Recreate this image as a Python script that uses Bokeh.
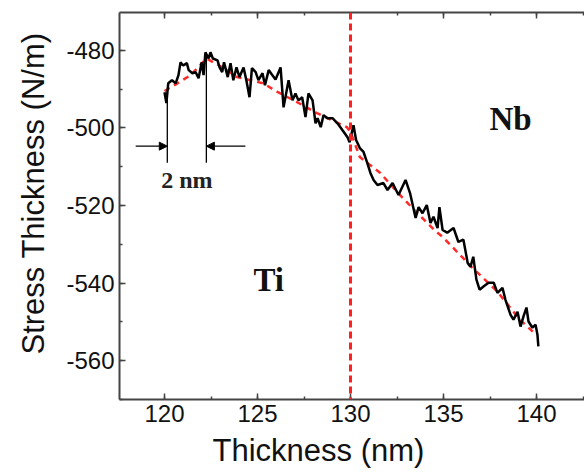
from bokeh.plotting import figure
from bokeh.models import (Range1d, LinearAxis, SingleIntervalTicker, Span, Label, Title,
                          Arrow, NormalHead, CustomJSTickFormatter)
from bokeh.embed import file_html
from bokeh.resources import INLINE

# measured stress-thickness curve
thickness = [120.0, 120.1, 120.2, 120.4, 120.6, 120.75, 120.86, 121.0, 121.2, 121.3,
             121.5, 121.67, 121.83, 122.0, 122.1, 122.2, 122.37, 122.47, 122.6, 122.85,
             122.96, 123.1, 123.2, 123.4, 123.55, 123.7, 123.87, 124.03, 124.25, 124.4,
             124.57, 124.7, 124.9, 125.05, 125.27, 125.4, 125.6, 125.8, 125.97, 126.24,
             126.4, 126.67, 126.88, 127.04, 127.2, 127.4, 127.58, 127.74, 127.96, 128.12,
             128.23, 128.4, 128.55, 128.76, 129.03, 129.3, 129.57, 129.84, 129.95, 130.16,
             130.3, 130.5, 130.7, 130.9, 131.07, 131.24, 131.45, 131.77, 131.99, 132.26,
             132.58, 132.96, 133.2, 133.5, 133.66, 133.87, 134.1, 134.3, 134.46, 134.68,
             134.78, 134.95, 135.2, 135.54, 135.8, 136.07, 136.3, 136.45, 136.6, 136.77,
             136.94, 137.15, 137.42, 137.7, 137.9, 138.17, 138.33, 138.6, 138.76, 138.98,
             139.14, 139.3, 139.46, 139.57, 139.78, 139.95, 140.05, 140.1]
stress = [-490.8, -493.6, -488.5, -487.7, -488.5, -486.4, -483.1, -483.9, -483.3, -485.1,
          -485.9, -485.6, -487.2, -483.1, -486.4, -480.5, -482.1, -480.5, -482.1, -482.6,
          -484.4, -485.6, -483.1, -486.9, -483.3, -487.7, -484.4, -486.9, -484.4, -487.7,
          -492.1, -484.6, -485.6, -487.7, -485.9, -489.0, -485.1, -486.4, -487.5, -484.4,
          -494.7, -487.7, -492.9, -491.1, -492.9, -492.1, -497.2, -491.1, -492.9, -498.8,
          -497.5, -499.8, -496.7, -497.5, -497.5, -498.8, -500.6, -502.4, -503.7, -499.3,
          -503.1, -505.2, -506.2, -509.0, -511.6, -513.4, -514.7, -514.2, -516.0, -514.2,
          -517.3, -513.4, -516.8, -523.2, -520.4, -522.0, -519.9, -524.5, -522.9, -525.8,
          -520.4, -526.3, -527.0, -525.8, -529.4, -528.8, -534.8, -535.8, -533.2, -539.1,
          -541.7, -540.9, -539.9, -539.9, -542.5, -541.2, -544.3, -548.1, -549.4, -547.4,
          -551.2, -548.6, -546.3, -549.9, -551.5, -550.7, -553.3, -556.3]

# fitted trend (red dashed)
fit_x = [120.0, 120.7, 121.4, 121.8, 122.25, 123.2, 123.9, 125.3, 126.1, 127.0, 128.2,
         129.8, 130.0, 130.5, 131.6, 132.5, 133.6, 134.5, 135.0, 136.5, 137.9, 139.1, 139.8]
fit_y = [-490.5, -488.5, -486.4, -484.4, -482.1, -484.6, -486.9, -488.5, -490.8, -493.0, -496.2,
         -499.8, -501.0, -507.5, -511.6, -516.5, -522.0, -526.3, -528.3, -535.8, -542.2, -549.4, -552.5]

interface_x = 130.0
x_ticks_interval = 5
y_ticks_interval = 20

# "2 nm" marker
marker_x = [120.15, 122.25]
marker_top = [-492.5, -480.5]
marker_bottom = -509.0
marker_arrow_y = -504.7
marker_arrow_from = [118.45, 124.35]

FONT = "Liberation Sans"
SERIF = "Liberation Serif"

p = figure(width=584, height=473, output_backend="svg", toolbar_location=None,
           x_range=Range1d(117.58, 142.58), y_range=Range1d(-570.0, -470.25),
           x_axis_location=None, y_axis_location=None,
           min_border_left=119, min_border_right=0, min_border_top=12, min_border_bottom=73)
p.grid.visible = False
p.outline_line_color = None
p.background_fill_color = "white"
p.border_fill_color = "white"

AX_COLOR = "#444444"
label_fmt = CustomJSTickFormatter(code="return tick.toFixed(0)")
blank_fmt = CustomJSTickFormatter(code="return ''")

def style_axis(ax):
    ax.axis_line_color = AX_COLOR
    ax.axis_line_width = 2
    ax.major_tick_line_color = AX_COLOR
    ax.minor_tick_line_color = AX_COLOR
    ax.major_tick_line_width = 1.5
    ax.minor_tick_line_width = 1.5
    ax.major_tick_in = 6
    ax.major_tick_out = 0
    ax.minor_tick_in = 3
    ax.minor_tick_out = 0
    ax.major_label_text_font = FONT
    ax.major_label_text_font_size = "24px"
    ax.major_label_text_color = "#111111"

xb = LinearAxis(ticker=SingleIntervalTicker(interval=x_ticks_interval, num_minor_ticks=2),
                formatter=label_fmt)
style_axis(xb)
xb.major_label_standoff = 5
p.add_layout(xb, "below")

yl = LinearAxis(ticker=SingleIntervalTicker(interval=y_ticks_interval, num_minor_ticks=2),
                formatter=label_fmt)
style_axis(yl)
yl.major_label_standoff = 5
p.add_layout(yl, "left")

xt = LinearAxis(ticker=SingleIntervalTicker(interval=x_ticks_interval, num_minor_ticks=2),
                formatter=blank_fmt)
style_axis(xt)
xt.major_label_standoff = 0
p.add_layout(xt, "above")

# axis titles
p.add_layout(Title(text="Thickness (nm)", text_font=FONT, text_font_size="31px",
                   text_font_style="normal", text_color="#111111", align="left",
                   vertical_align="bottom", offset=93, standoff=12), "below")
p.add_layout(Title(text="Stress Thickness (N/m)", text_font=FONT, text_font_size="31px",
                   text_font_style="normal", text_color="#111111", align="left",
                   offset=45, standoff=26), "left")

# interface line
p.add_layout(Span(location=interface_x, dimension="height", line_color="#ff2020",
                  line_dash="7 4", line_width=3))

# fit and data
p.line(fit_x, fit_y, line_color="#ff2a2a", line_width=2.5, line_dash="6 5")
p.line(thickness, stress, line_color="black", line_width=2.5)

# 2 nm marker
p.segment(x0=marker_x, y0=marker_top, x1=marker_x, y1=[marker_bottom] * 2,
          line_color="black", line_width=1.3)
for x_from, x_to in zip(marker_arrow_from, marker_x):
    p.add_layout(Arrow(end=NormalHead(size=8, fill_color="black", line_color="black"),
                       x_start=x_from, y_start=marker_arrow_y, x_end=x_to, y_end=marker_arrow_y,
                       line_color="black", line_width=1.3))

p.add_layout(Label(x=sum(marker_x) / 2, y=-513.5, text="2 nm", text_font=SERIF,
                   text_font_style="bold", text_font_size="24px", text_align="center",
                   text_baseline="middle", text_color="#222222"))
p.add_layout(Label(x=125.6, y=-539.3, text="Ti", text_font=SERIF, text_font_style="bold",
                   text_font_size="33px", text_align="center", text_baseline="middle",
                   text_color="#111111"))
p.add_layout(Label(x=138.6, y=-497.8, text="Nb", text_font=SERIF, text_font_style="bold",
                   text_font_size="33px", text_align="center", text_baseline="middle",
                   text_color="#111111"))

open("out.html", "w").write(file_html(p, INLINE))
